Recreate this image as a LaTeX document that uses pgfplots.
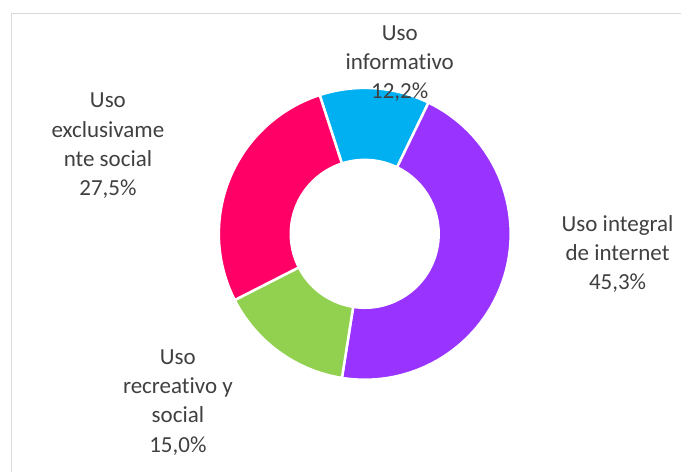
\documentclass[border=0pt]{standalone}
\usepackage{pgfplots}
\usepackage{pgfplotstable}
\pgfplotsset{compat=1.18}
\usepackage{fontspec}
\setmainfont{Carlito}[Ligatures={NoCommon,NoContextual}]
\definecolor{cInfo}{HTML}{00B0F0}
\definecolor{cIntegral}{HTML}{9933FF}
\definecolor{cRecre}{HTML}{92D050}
\definecolor{cExcl}{HTML}{FF0066}
\definecolor{txt}{HTML}{404040}
\definecolor{frame}{HTML}{D9D9D9}
\pgfplotstableread[col sep=comma]{
label,value,color
Uso informativo,12.2,cInfo
Uso integral de internet,45.3,cIntegral
Uso recreativo y social,15.0,cRecre
Uso exclusivamente social,27.5,cExcl
}\donutdata
\begin{document}
\begin{tikzpicture}
\begin{axis}[x=1pt,y=1pt,xmin=0,xmax=681,ymin=0,ymax=472,hide axis,clip=false]
\pgfplotsextra{
  \path (axis cs:0,0) rectangle (axis cs:681,472);
  \draw[frame,line width=1pt] (axis cs:11.5,0) -- (axis cs:11.5,458.5) -- (axis cs:681,458.5);
  \path (axis cs:365,238) coordinate (C);
  \xdef\cum{-18}
  \pgfplotstablegetrowsof{\donutdata}
  \pgfmathtruncatemacro\nrows{\pgfplotsretval-1}
  \foreach \i in {0,...,\nrows} {
    \pgfplotstablegetelem{\i}{value}\of\donutdata \let\v\pgfplotsretval
    \pgfplotstablegetelem{\i}{color}\of\donutdata \let\c\pgfplotsretval
    \pgfmathsetmacro\a{90-\cum}
    \pgfmathsetmacro\b{90-\cum-3.6*\v}
    \pgfmathsetmacro\newcum{\cum+3.6*\v}
    \xdef\cum{\newcum}
    \filldraw[fill=\c, draw=white, line width=2.5pt, line join=round]
      ([shift={(\a:146)}]C) arc[start angle=\a, end angle=\b, radius=146pt]
      -- ([shift={(\b:74)}]C) arc[start angle=\b, end angle=\a, radius=74pt] -- cycle;
  }
}
\begin{scope}[every node/.style={anchor=base, text=txt, font=\fontsize{23}{29}\selectfont, inner sep=0pt}]
\node at (axis cs:400,431) {Uso};
\node at (axis cs:400,402) {informativo};
\node at (axis cs:400,373) {12,2\%};
\node at (axis cs:108,364) {Uso};
\node at (axis cs:108,334.5) {exclusivame};
\node at (axis cs:108,305) {nte social};
\node at (axis cs:108,276) {27,5\%};
\node at (axis cs:618,240) {Uso integral};
\node at (axis cs:618,211) {de internet};
\node at (axis cs:618,182) {45,3\%};
\node at (axis cs:178,107) {Uso};
\node at (axis cs:178,78) {recreativo y};
\node at (axis cs:178,49) {social};
\node at (axis cs:178,19.5) {15,0\%};
\end{scope}
\end{axis}
\end{tikzpicture}
\end{document}
